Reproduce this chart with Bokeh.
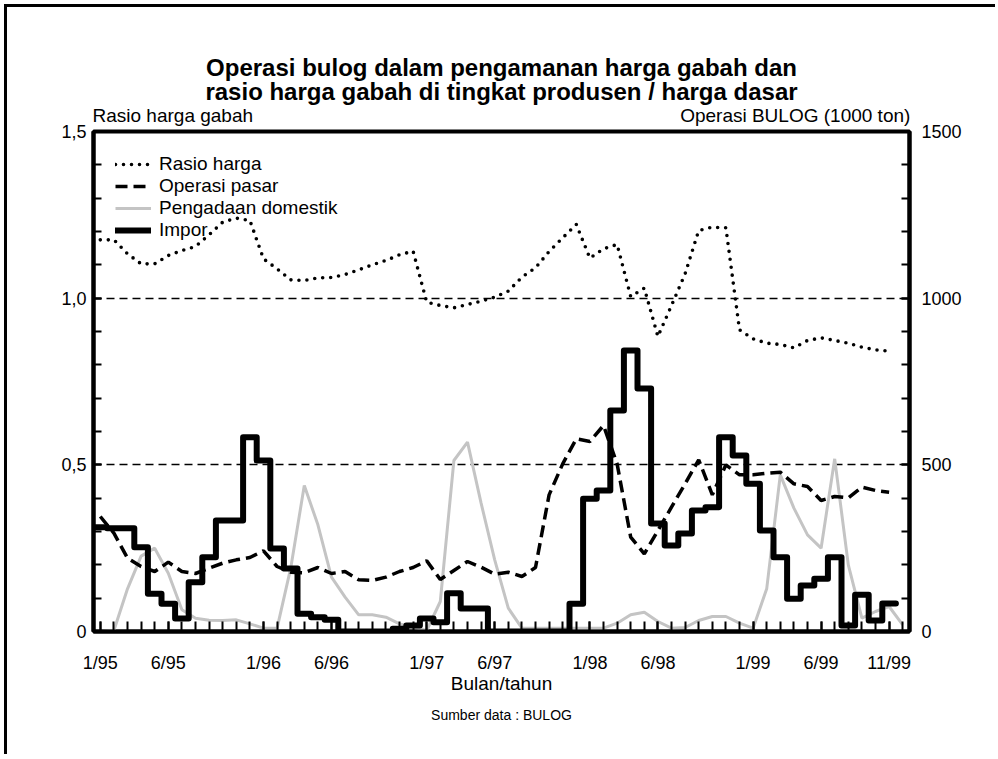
from bokeh.plotting import figure
from bokeh.models import Range1d, LinearAxis, FixedTicker, Legend, LegendItem, Title
from bokeh.embed import file_html
from bokeh.resources import INLINE

FONT = "Liberation Sans"

# ---------------- data ----------------
months = list(range(60))  # 0 = 1/95 ... 59 = 12/99
x_tick_positions = [0, 5, 12, 17, 24, 29, 36, 41, 48, 53, 58]
x_tick_labels = ["1/95", "6/95", "1/96", "6/96", "1/97", "6/97", "1/98", "6/98", "1/99", "6/99", "11/99"]

left_ticks = [0, 0.5, 1.0, 1.5]
left_tick_labels = ["0", "0,5", "1,0", "1,5"]
left_grid = [0.5, 1.0]
right_ticks = [0, 500, 1000, 1500]

title_lines = ["Operasi bulog dalam pengamanan harga gabah dan",
               "rasio harga gabah di tingkat produsen / harga dasar"]
axis_titles = ["Rasio harga gabah", "Operasi BULOG (1000 ton)"]
x_title = "Bulan/tahun"
source_note = "Sumber data : BULOG"

rasio_harga = [1.175, 1.175, 1.133, 1.103, 1.103, 1.128, 1.143, 1.155, 1.19, 1.228,
               1.24, 1.233, 1.118, 1.088, 1.055, 1.053, 1.061, 1.062, 1.071, 1.085,
               1.100, 1.113, 1.130, 1.141, 0.988, 0.978, 0.971, 0.981, 0.991, 1.003,
               1.021, 1.063, 1.091, 1.140, 1.181, 1.221, 1.12, 1.148, 1.161, 1.005,
               1.03, 0.885, 0.978, 1.073, 1.203, 1.213, 1.211, 0.905, 0.878, 0.865,
               0.861, 0.851, 0.873, 0.881, 0.873, 0.865, 0.853, 0.845, 0.841]

operasi_pasar = [345, 295, 220, 195, 180, 208, 180, 174, 190, 205,
                 215, 222, 242, 195, 178, 176, 192, 174, 180, 155,
                 153, 163, 180, 192, 212, 156, 183, 210, 193, 172,
                 178, 165, 192, 410, 503, 578, 570, 618, 503, 283,
                 233, 303, 373, 443, 515, 410, 500, 470, 470, 475,
                 478, 443, 435, 393, 405, 401, 433, 423, 418]

pengadaan_domestik = [0, 3, 128, 226, 250, 175, 65, 40, 34, 33,
                      35, 23, 10, 10, 190, 438, 320, 163, 103, 50,
                      50, 43, 23, 13, 3, 90, 513, 568, 385, 215,
                      70, 10, 10, 10, 10, 10, 10, 10, 25, 50,
                      58, 30, 10, 12, 33, 45, 45, 25, 10, 128,
                      470, 370, 290, 250, 518, 200, 40, 60, 75, 20]

impor = [313, 310, 310, 253, 113, 83, 39, 148, 223, 333,
         333, 583, 513, 249, 189, 53, 43, 35, 0, 0,
         0, 0, 8, 18, 39, 28, 115, 69, 69, 0,
         0, 0, 0, 0, 0, 83, 398, 423, 663, 843,
         729, 324, 258, 294, 363, 373, 583, 528, 443, 303,
         223, 98, 138, 158, 223, 18, 110, 33, 84]

# monthly step path for imports (each month spans its own column)
impor_x, impor_y = [], []
for m, v in zip(months, impor):
    impor_x += [m - 0.5, m + 0.5]
    impor_y += [v, v]


def safe_set(obj, attr, val, fallback):
    try:
        setattr(obj, attr, val)
    except Exception:
        setattr(obj, attr, fallback)


# ---------------- figure ----------------
p = figure(width=991, height=750, output_backend="svg", toolbar_location=None,
           x_range=Range1d(-0.5, 59.5), y_range=Range1d(0, 1.5),
           min_border_left=86, min_border_right=89, min_border_top=124, min_border_bottom=126,
           background_fill_color="white", border_fill_color="white")
p.styles = {"border-left": "3px solid black", "border-top": "3px solid black",
            "margin-left": "4px", "margin-top": "4px"}
p.extra_y_ranges = {"bulog": Range1d(0, 1500)}
p.outline_line_color = "black"
p.outline_line_width = 4

p.xgrid.visible = False
p.ygrid.ticker = FixedTicker(ticks=left_grid)
p.ygrid.grid_line_color = "black"
p.ygrid.grid_line_width = 1.5
p.ygrid.grid_line_dash = "8 5"


def style_axis(ax, tick_len, standoff):
    ax.axis_line_width = 4
    ax.axis_line_color = "black"
    ax.major_tick_in = tick_len
    ax.major_tick_out = 0
    ax.minor_tick_in = tick_len
    ax.minor_tick_out = 0
    ax.major_tick_line_width = 2
    ax.minor_tick_line_width = 2
    ax.major_tick_line_color = "black"
    ax.minor_tick_line_color = "black"
    ax.major_label_text_font = FONT
    ax.major_label_text_font_size = "18px"
    ax.major_label_text_color = "black"
    ax.major_label_standoff = standoff


xa = p.xaxis[0]
xa.ticker = FixedTicker(ticks=x_tick_positions, minor_ticks=months)
xa.major_label_overrides = dict(zip(x_tick_positions, x_tick_labels))
style_axis(xa, 10, 21)
xa.axis_label = x_title
xa.axis_label_text_font = FONT
xa.axis_label_text_font_size = "19px"
xa.axis_label_text_font_style = "normal"
xa.axis_label_text_color = "black"
safe_set(xa, "axis_label_standoff", -3, 0)

ya = p.yaxis[0]
ya.ticker = FixedTicker(ticks=left_ticks, minor_ticks=[round(0.1 * i, 1) for i in range(16)])
ya.major_label_overrides = dict(zip(left_ticks, left_tick_labels))
style_axis(ya, 8, 7)

yr = LinearAxis(y_range_name="bulog",
                ticker=FixedTicker(ticks=right_ticks, minor_ticks=[100 * i for i in range(16)]))
style_axis(yr, 8, 12)
p.add_layout(yr, "right")

# header row (axis titles) as labels of an invisible axis above the frame
header_pos = [5.33, 51.1]
ax_top = LinearAxis(ticker=FixedTicker(ticks=header_pos, minor_ticks=[]),
                    major_label_overrides=dict(zip(header_pos, axis_titles)))
ax_top.axis_line_color = None
ax_top.major_tick_line_color = None
ax_top.minor_tick_line_color = None
ax_top.major_tick_out = 0
ax_top.major_tick_in = 0
ax_top.major_label_standoff = 6
ax_top.major_label_text_font = FONT
ax_top.major_label_text_font_size = "19px"
ax_top.major_label_text_color = "black"
p.add_layout(ax_top, "above")


def make_title(text, size, bold, standoff):
    t = Title(text=text, align="center", text_font=FONT, text_font_size=size,
              text_font_style="bold" if bold else "normal", text_color="black")
    safe_set(t, "standoff", standoff, 0)
    return t


p.add_layout(make_title(title_lines[1], "24px", True, -6), "above")
p.add_layout(make_title(title_lines[0], "24px", True, -5), "above")
p.add_layout(make_title(source_note, "14px", False, 16), "below")

# ---------------- series ----------------
r_peng = p.line(months, pengadaan_domestik, y_range_name="bulog",
                line_color="#c4c4c4", line_width=3)
r_op = p.line(months[:len(operasi_pasar)], operasi_pasar, y_range_name="bulog",
              line_color="black", line_width=3.5, line_dash="12 6")
r_imp = p.line(impor_x, impor_y, y_range_name="bulog",
               line_color="black", line_width=6, line_join="round", line_cap="round")
r_ras = p.line(months[:len(rasio_harga)], rasio_harga,
               line_color="black", line_width=3.6, line_dash="0 8", line_cap="round")

legend = Legend(items=[LegendItem(label="Rasio harga", renderers=[r_ras]),
                       LegendItem(label="Operasi pasar", renderers=[r_op]),
                       LegendItem(label="Pengadaan domestik", renderers=[r_peng]),
                       LegendItem(label="Impor", renderers=[r_imp])],
                location="top_left", margin=10, padding=12, spacing=0,
                glyph_width=36, glyph_height=20, label_height=20, label_standoff=8,
                label_text_font=FONT, label_text_font_size="19px", label_text_color="black",
                label_text_line_height=1.0,
                border_line_alpha=0, background_fill_alpha=0)
p.add_layout(legend)

open("out.html", "w").write(file_html(p, INLINE))
